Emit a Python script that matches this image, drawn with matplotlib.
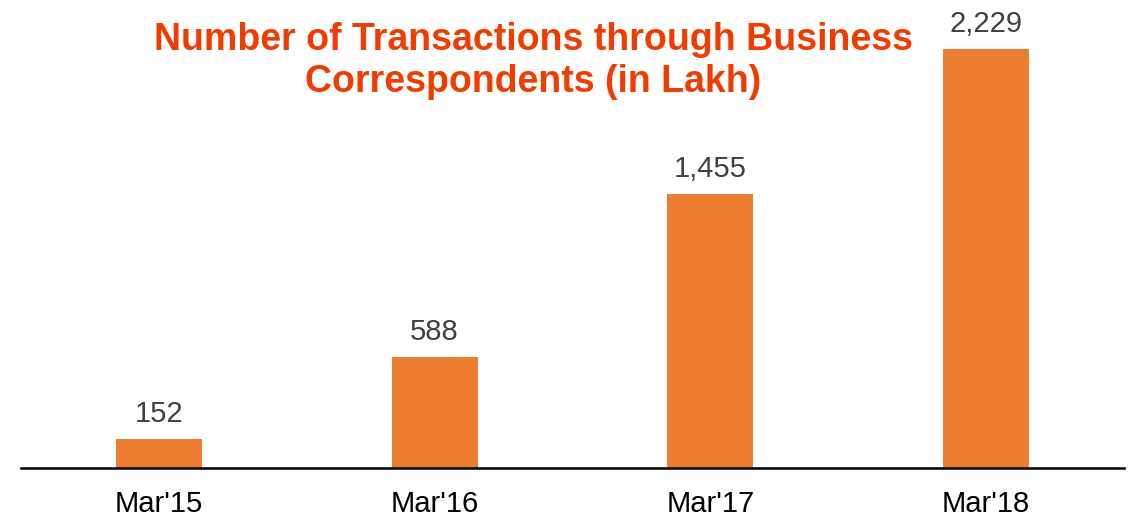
import matplotlib
matplotlib.use("Agg")
import matplotlib.pyplot as plt

# data
periods = ["Mar'15", "Mar'16", "Mar'17", "Mar'18"]
transactions = [152, 588, 1455, 2229]

plt.rcParams["font.family"] = ["Liberation Sans", "DejaVu Sans"]

fig = plt.figure(figsize=(11.4, 5.18), dpi=100)
ax = fig.add_axes([21 / 1140, 50 / 518, 1103 / 1140, 468 / 518])

x = range(len(periods))
bars = ax.bar(x, transactions, width=0.312, color="#ED7D31")

for xi, v in zip(x, transactions):
    ax.annotate(f"{v:,}", (xi, v), xytext=(0, 12.5), textcoords="offset points",
                ha="center", va="baseline", fontsize=21, color="#404040")

ax.set_xlim(-0.5, 3.5)
ax.set_ylim(0, 2489)
ax.set_xticks(list(x))
ax.set_xticklabels(periods, fontsize=21, color="black")
ax.tick_params(axis="x", length=0, pad=16)
ax.set_yticks([])
for s in ["top", "left", "right"]:
    ax.spines[s].set_visible(False)
ax.spines["bottom"].set_linewidth(1.8)
ax.spines["bottom"].set_color("black")

title_color = "#F03C00"
fig.text(533 / 1140, 1 - 50 / 518, "Number of Transactions through Business",
         ha="center", va="baseline", fontsize=27, fontweight="bold", color=title_color)
fig.text(533 / 1140, 1 - 92 / 518, "Correspondents (in Lakh)",
         ha="center", va="baseline", fontsize=27, fontweight="bold", color=title_color)

fig.savefig("out.png", dpi=100)
